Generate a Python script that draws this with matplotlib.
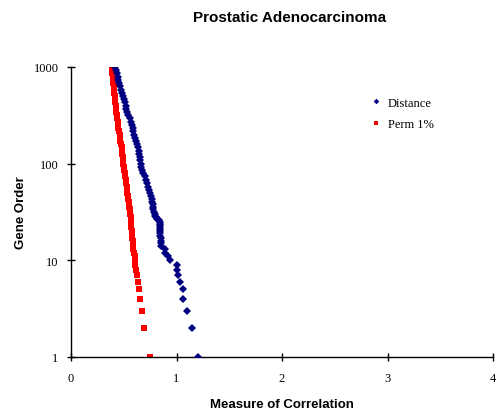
import matplotlib
matplotlib.use("Agg")
import matplotlib.pyplot as plt
from matplotlib.ticker import FixedLocator, NullLocator, FixedFormatter

# Gene order (rank) and measure of correlation for each series
distance_rank = [1, 2, 3, 4, 5, 6, 7, 8, 9, 10, 11, 12, 13, 14, 15, 16, 17, 18, 19, 20,
                 21, 22, 23, 24, 25, 26, 27, 28, 29, 30, 32, 34, 36, 38, 40, 43, 46, 50,
                 54, 58, 63, 68, 74, 80, 86, 93, 100, 108, 117, 126, 136, 147, 159, 172,
                 186, 200, 216, 233, 252, 272, 294, 317, 342, 369, 398, 430, 464, 501,
                 541, 584, 631, 681, 735, 794, 857, 925, 1000]
distance_value = [1.200, 1.144, 1.102, 1.058, 1.058, 1.030, 1.014, 1.008, 1.002, 0.940,
                  0.917, 0.888, 0.888, 0.856, 0.856, 0.850, 0.850, 0.848, 0.848, 0.846,
                  0.846, 0.845, 0.845, 0.843, 0.840, 0.835, 0.815, 0.805, 0.800, 0.797,
                  0.790, 0.780, 0.777, 0.773, 0.770, 0.765, 0.757, 0.745, 0.736, 0.728,
                  0.718, 0.707, 0.697, 0.685, 0.675, 0.668, 0.662, 0.656, 0.652, 0.647,
                  0.640, 0.633, 0.625, 0.617, 0.608, 0.600, 0.592, 0.583, 0.574, 0.565,
                  0.555, 0.545, 0.535, 0.525, 0.517, 0.508, 0.500, 0.492, 0.485, 0.476,
                  0.466, 0.458, 0.450, 0.443, 0.437, 0.430, 0.415]

perm_rank = [1, 2, 3, 4, 5, 6, 7, 8, 9, 10, 11, 12, 13, 14, 15, 16, 17, 18, 19, 20,
             22, 24, 26, 28, 30, 32, 34, 36, 38, 40, 43, 46, 50, 54, 58, 63, 68, 74, 80,
             86, 93, 100, 108, 117, 126, 136, 147, 159, 172, 186, 200, 216, 233, 252,
             272, 294, 317, 342, 369, 398, 430, 464, 501, 541, 584, 631, 681, 735, 794,
             857, 925, 1000]
perm_value = [0.745, 0.690, 0.674, 0.655, 0.643, 0.633, 0.624, 0.620, 0.607, 0.605,
              0.603, 0.595, 0.592, 0.590, 0.588, 0.585, 0.582, 0.580, 0.578, 0.576,
              0.573, 0.570, 0.567, 0.565, 0.562, 0.558, 0.555, 0.552, 0.550, 0.548,
              0.544, 0.540, 0.535, 0.531, 0.527, 0.522, 0.518, 0.513, 0.509, 0.505,
              0.501, 0.497, 0.493, 0.490, 0.487, 0.483, 0.479, 0.474, 0.469, 0.465,
              0.460, 0.455, 0.450, 0.446, 0.442, 0.438, 0.434, 0.430, 0.426, 0.422,
              0.419, 0.416, 0.413, 0.410, 0.406, 0.403, 0.400, 0.397, 0.395, 0.392,
              0.390, 0.387]

x_ticks = [0, 1, 2, 3, 4]
y_ticks = [1, 10, 100, 1000]
y_tick_labels = ["1", "10", "100", "1000"]

serif = ["Liberation Serif", "DejaVu Serif"]
sans = ["Liberation Sans", "DejaVu Sans"]

fig = plt.figure(figsize=(4.98, 4.14), dpi=100)
ax = fig.add_axes([71 / 498, 56 / 414, 422 / 498, 290 / 414])

ax.plot(perm_value, perm_rank, linestyle="none", marker="s", markersize=4.3,
        color="#FF0000", markeredgewidth=0, label="Perm 1%", zorder=2)
ax.plot(distance_value, distance_rank, linestyle="none", marker="D", markersize=3.8,
        color="#000080", markeredgewidth=0, label="Distance", zorder=3)

ax.set_yscale("log")
ax.set_xlim(0, 4)
ax.set_ylim(1, 1000)
ax.xaxis.set_major_locator(FixedLocator(x_ticks))
ax.yaxis.set_major_locator(FixedLocator(y_ticks))
ax.yaxis.set_major_formatter(FixedFormatter(y_tick_labels))
ax.yaxis.set_minor_locator(NullLocator())
ax.xaxis.set_minor_locator(NullLocator())

for s in ("top", "right"):
    ax.spines[s].set_visible(False)
for s in ("left", "bottom"):
    ax.spines[s].set_linewidth(1.0)
    ax.spines[s].set_color("#000000")
ax.tick_params(axis="both", direction="inout", length=6, width=1.0, pad=6)
ax.tick_params(axis="x", pad=8)
for lab in ax.get_xticklabels() + ax.get_yticklabels():
    lab.set_fontfamily(serif)
    lab.set_fontsize(9)

ax.set_xlabel("Measure of Correlation", fontfamily=sans, fontweight="bold",
              fontsize=9.5, labelpad=10)
ax.set_ylabel("Gene Order", fontfamily=sans, fontweight="bold", fontsize=9.5,
              labelpad=5)
fig.text(290 / 498, 1 - 18 / 414, "Prostatic Adenocarcinoma", ha="center",
         va="center", fontfamily=sans, fontweight="bold", fontsize=11)

handles, labels = ax.get_legend_handles_labels()
leg = ax.legend(handles[::-1], labels[::-1], loc="upper left",
                bbox_to_anchor=(0.688, 0.937), frameon=False, numpoints=1,
                prop={"family": serif, "size": 9}, handlelength=0.6,
                handletextpad=0.6, labelspacing=0.75, markerscale=0.75)

fig.savefig("out.png", dpi=100)
